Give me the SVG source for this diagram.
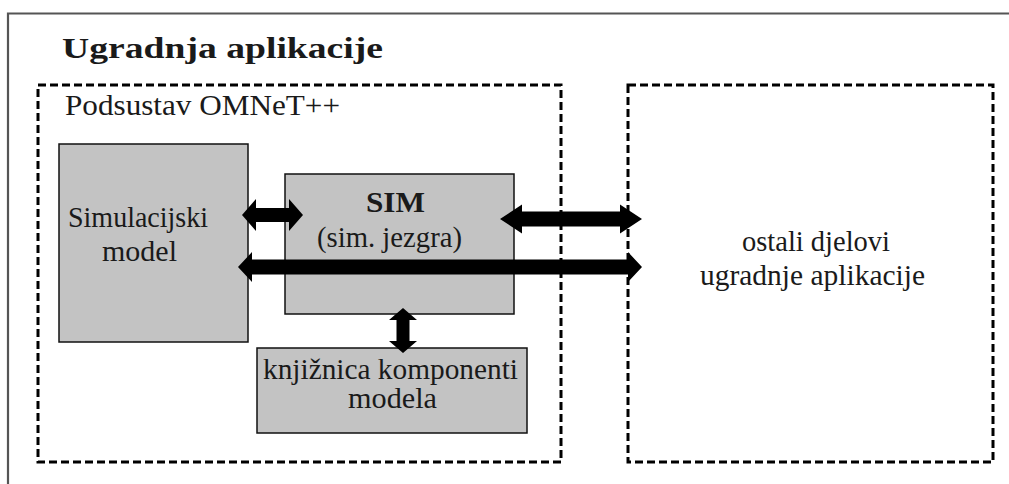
<svg xmlns="http://www.w3.org/2000/svg" width="1009" height="484" viewBox="0 0 1009 484">
  <style>
    text { font-family: 'Liberation Serif', 'Times New Roman', Times, serif; fill: #1a1a1a; font-size: 29px; }
    .b { font-weight: bold; }
    .c { text-anchor: middle; }
    .box { fill: #c3c3c3; stroke: #111; stroke-width: 1.5; }
    .dash { fill: none; stroke: #000; stroke-width: 3; stroke-dasharray: 8 4; }
    .arrow { fill: #000; }
  </style>
  <rect width="1009" height="484" fill="#fff"/>
  <g id="frame">
    <polyline points="8,484 8,13.5 1009,13.5" fill="none" stroke="#555" stroke-width="2.2"/>
    <text class="b" x="62" y="58" font-size="35" textLength="321" lengthAdjust="spacingAndGlyphs">Ugradnja aplikacije</text>
  </g>
  <g id="omnet">
    <rect class="dash" x="38" y="85" width="523" height="377"/>
    <text x="65" y="115" font-size="28" textLength="275" lengthAdjust="spacingAndGlyphs">Podsustav OMNeT++</text>
  </g>
  <g id="other">
    <rect class="dash" x="628" y="85" width="365" height="377"/>
    <text class="c" x="816" y="251" textLength="148" lengthAdjust="spacingAndGlyphs">ostali djelovi</text>
    <text class="c" x="812.5" y="285" textLength="225" lengthAdjust="spacingAndGlyphs">ugradnje aplikacije</text>
  </g>
  <g id="sim-model">
    <rect class="box" x="59" y="144" width="189" height="198"/>
    <text class="c" x="138" y="227" textLength="140" lengthAdjust="spacingAndGlyphs">Simulacijski</text>
    <text class="c" x="139.5" y="261" textLength="75" lengthAdjust="spacingAndGlyphs">model</text>
  </g>
  <g id="sim">
    <rect class="box" x="285" y="174" width="229" height="140"/>
    <text class="b c" x="395.5" y="212" textLength="59" lengthAdjust="spacingAndGlyphs">SIM</text>
    <text class="c" x="389.5" y="247" textLength="145" lengthAdjust="spacingAndGlyphs">(sim. jezgra)</text>
  </g>
  <g id="library">
    <rect class="box" x="257" y="348" width="270" height="85"/>
    <text class="c" x="390.5" y="379" font-size="26" textLength="255" lengthAdjust="spacingAndGlyphs">knjižnica komponenti</text>
    <text class="c" x="392.5" y="408" font-size="26" textLength="89" lengthAdjust="spacingAndGlyphs">modela</text>
  </g>
  <g id="connectors">
    <polygon class="arrow" points="242,215 256,199 256,208 289,208 289,199 303,215 289,231 289,222 256,222 256,231"/>
    <polygon class="arrow" points="238,267 252,252 252,259.5 628,259.5 628,252 642,267 628,282 628,274.5 252,274.5 252,282"/>
    <polygon class="arrow" points="500,219 522,204.5 522,211.5 620,211.5 620,204.5 642,219 620,233.5 620,226.5 522,226.5 522,233.5"/>
    <polygon class="arrow" points="403,308 417,320 409.5,320 409.5,341 417,341 403,353 389,341 396.5,341 396.5,320 389,320"/>
  </g>
</svg>
